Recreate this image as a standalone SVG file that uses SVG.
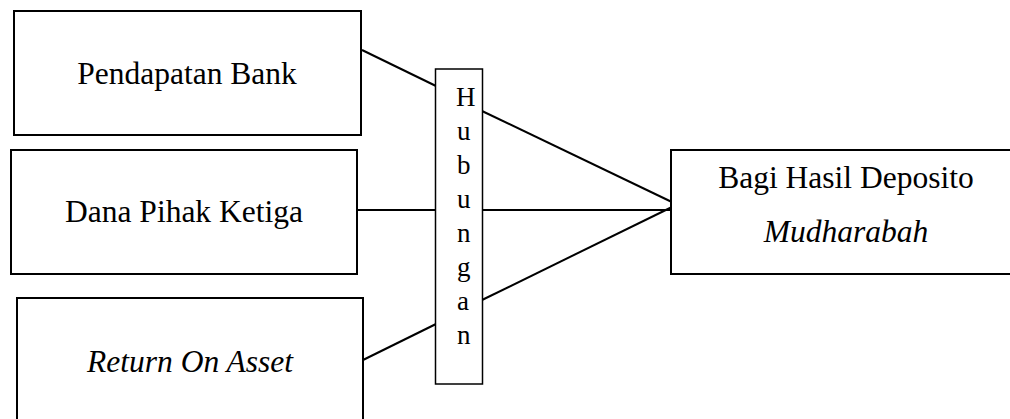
<svg xmlns="http://www.w3.org/2000/svg" width="1010" height="419" viewBox="0 0 1010 419">
<style>
.box{fill:#fff;stroke:#000;stroke-width:2}
.thin{fill:#fff;stroke:#000;stroke-width:1.5}
text{font-family:'Liberation Serif',Tinos,'Times New Roman','DejaVu Serif',serif;fill:#000}
.t{font-size:31.5px;text-anchor:middle}
.i{font-style:italic}
.v{font-size:27px}
.c{stroke:#000;stroke-width:2;fill:none}
</style>
<rect width="1010" height="419" fill="#fff"/>
<g id="connectors">
<line class="c" x1="362" y1="50" x2="436" y2="86"/>
<line class="c" x1="357" y1="210" x2="436" y2="210"/>
<line class="c" x1="363" y1="360" x2="436" y2="324"/>
<line class="c" x1="482" y1="111" x2="676" y2="204"/>
<line class="c" x1="482" y1="210" x2="673" y2="210"/>
<line class="c" x1="482" y1="300" x2="674" y2="206"/>
</g>
<g id="pendapatan-bank">
<rect class="box" x="14" y="11" width="347" height="124"/>
<text class="t" x="187" y="84" font-family="Liberation Serif, serif">Pendapatan Bank</text>
</g>
<g id="dana-pihak-ketiga">
<rect class="box" x="11" y="150" width="346" height="124"/>
<text class="t" x="184" y="222" font-family="Liberation Serif, serif">Dana Pihak Ketiga</text>
</g>
<g id="return-on-asset">
<rect class="box" x="17" y="298" width="346" height="140"/>
<text class="t i" x="190" y="372" font-family="Liberation Serif, serif">Return On Asset</text>
</g>
<g id="hubungan" font-family="Liberation Serif, serif">
<rect class="thin" x="435.5" y="69" width="47" height="315"/>
<text class="v" x="456" y="106">H</text>
<text class="v" x="457" y="140">u</text>
<text class="v" x="457" y="174">b</text>
<text class="v" x="457" y="208">u</text>
<text class="v" x="457" y="242">n</text>
<text class="v" x="457" y="276">g</text>
<text class="v" x="457" y="310">a</text>
<text class="v" x="457" y="344">n</text>
</g>
<g id="bagi-hasil">
<rect class="box" x="671" y="150" width="360" height="124"/>
<text class="t" x="846" y="188" font-family="Liberation Serif, serif">Bagi Hasil Deposito</text>
<text class="t i" x="846" y="242" font-family="Liberation Serif, serif">Mudharabah</text>
</g>
</svg>
